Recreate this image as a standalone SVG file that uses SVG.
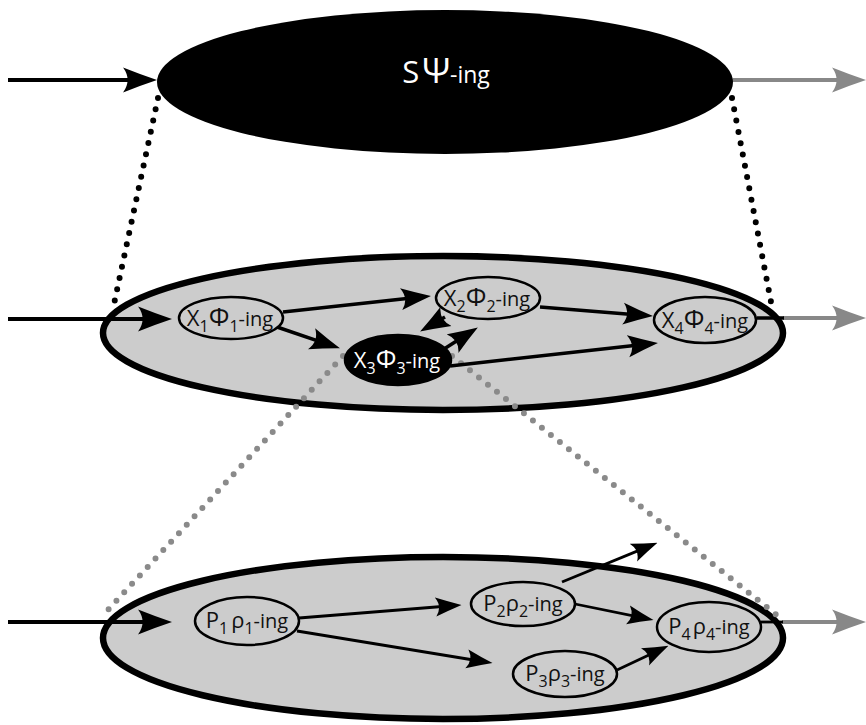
<svg xmlns="http://www.w3.org/2000/svg" width="866" height="725" viewBox="0 0 866 725">
<style>
.lbl{font-family:"Open Sans","Noto Sans",sans-serif;text-anchor:middle;fill:#111}
.w{fill:#fff}
.b{font-size:22px}
.s{font-size:16px}
.g{font-size:26px}
.i{font-size:20px}
.node{fill:#ccc;stroke:#000;stroke-width:2.5}
.dark{fill:#000;stroke:#000;stroke-width:2.5}
.big{fill:#ccc;stroke:#000;stroke-width:6.5}
.dotk{fill:none;stroke:#000;stroke-width:6;stroke-linecap:round;stroke-dasharray:0 11.5}
.dotg{fill:none;stroke:#8a8a8a;stroke-width:6;stroke-linecap:round;stroke-dasharray:0 11.5}
.ak{fill:none;stroke:#000;stroke-width:3.5}
.ab{fill:none;stroke:#000;stroke-width:2.8}
.ain{fill:none;stroke:#000;stroke-width:4;marker-end:url(#mL)}
.aout{fill:none;stroke:#888;stroke-width:4;marker-end:url(#mG)}
</style>
<defs>
<marker id="mL" markerUnits="userSpaceOnUse" viewBox="0 0 30 22" markerWidth="34" markerHeight="26" refX="22" refY="11" orient="auto"><path d="M30,11 Q15,6 0,0 Q8,11 0,22 Q15,16 30,11 Z" fill="#000"/></marker>
<marker id="mG" markerUnits="userSpaceOnUse" viewBox="0 0 30 22" markerWidth="34" markerHeight="26" refX="22" refY="11" orient="auto"><path d="M30,11 Q15,6 0,0 Q8,11 0,22 Q15,16 30,11 Z" fill="#888"/></marker>
<marker id="mM" markerUnits="userSpaceOnUse" viewBox="0 0 30 22" markerWidth="30" markerHeight="23" refX="22" refY="11" orient="auto"><path d="M30,11 Q15,6 0,0 Q8,11 0,22 Q15,16 30,11 Z" fill="#000"/></marker>
<marker id="mS" markerUnits="userSpaceOnUse" viewBox="0 0 30 22" markerWidth="26" markerHeight="20" refX="22" refY="11" orient="auto"><path d="M30,11 Q15,6 0,0 Q8,11 0,22 Q15,16 30,11 Z" fill="#000"/></marker>
</defs>

<g id="containers">
<ellipse id="top" cx="445" cy="82" rx="288" ry="72" fill="#000"/>
<ellipse id="middle" cx="443" cy="333" rx="340" ry="77" class="big"/>
<ellipse id="bottom" cx="443" cy="638" rx="340" ry="81" class="big"/>
</g>

<g id="connectors">
<line class="dotk" x1="158" y1="98" x2="114" y2="304"/>
<line class="dotk" x1="732" y1="98" x2="771" y2="302"/>
<line class="dotg" x1="343" y1="356" x2="106" y2="612"/>
<line class="dotg" x1="452" y1="356" x2="778" y2="616"/>

<line class="ain" x1="8" y1="80" x2="148" y2="80"/>
<line class="ain" x1="8" y1="319" x2="163" y2="319"/>
<line class="ain" x1="8" y1="622" x2="163" y2="622"/>
<line class="aout" x1="733" y1="80" x2="857" y2="80"/>
<line class="aout" x1="783" y1="318" x2="857" y2="318"/>
<line class="aout" x1="782" y1="622" x2="857" y2="622"/>
<line class="ak" x1="757" y1="318" x2="784" y2="318"/>
<line class="ab" x1="761" y1="622" x2="783" y2="622"/>

<line class="ak" marker-end="url(#mM)" x1="283" y1="312" x2="423" y2="296.8"/>
<line class="ak" marker-end="url(#mM)" x1="277" y1="327" x2="332.4" y2="345.8"/>
<line class="ak" marker-end="url(#mM)" x1="445" y1="317" x2="427" y2="327.5"/>
<line class="ak" marker-end="url(#mM)" x1="444" y1="349" x2="471.1" y2="331.8"/>
<line class="ak" marker-end="url(#mM)" x1="540" y1="307" x2="645" y2="315.4"/>
<line class="ak" marker-end="url(#mM)" x1="450" y1="366" x2="650" y2="343.8"/>

<line class="ab" marker-end="url(#mS)" x1="299" y1="618" x2="454.6" y2="605.5"/>
<line class="ab" marker-end="url(#mS)" x1="297" y1="631" x2="485.7" y2="662"/>
<line class="ab" marker-end="url(#mS)" x1="562" y1="582" x2="651.1" y2="545.4"/>
<line class="ab" marker-end="url(#mS)" x1="575" y1="604" x2="646.7" y2="618.7"/>
<line class="ab" marker-end="url(#mS)" x1="617" y1="670" x2="662.2" y2="648.7"/>
</g>

<g id="top-label">
<text class="lbl w" x="446" y="83"><tspan font-size="31px">S</tspan><tspan font-size="35px" dx="3">Ψ</tspan><tspan font-size="23px">-ing</tspan></text>
</g>

<g id="X1">
<ellipse class="node" cx="231" cy="318" rx="52" ry="21"/>
<text class="lbl" x="230" y="326"><tspan class="b">X</tspan><tspan class="s" dy="6">1</tspan><tspan class="g" dy="-6">Φ</tspan><tspan class="s" dy="6">1</tspan><tspan class="i" dy="-6">-ing</tspan></text>
</g>
<g id="X2">
<ellipse class="node" cx="488" cy="298" rx="52" ry="21"/>
<text class="lbl" x="487" y="306"><tspan class="b">X</tspan><tspan class="s" dy="6">2</tspan><tspan class="g" dy="-6">Φ</tspan><tspan class="s" dy="6">2</tspan><tspan class="i" dy="-6">-ing</tspan></text>
</g>
<g id="X3">
<ellipse class="dark" cx="398" cy="360" rx="53" ry="25"/>
<text class="lbl w" x="397" y="368"><tspan class="b">X</tspan><tspan class="s" dy="6">3</tspan><tspan class="g" dy="-6">Φ</tspan><tspan class="s" dy="6">3</tspan><tspan class="i" dy="-6">-ing</tspan></text>
</g>
<g id="X4">
<ellipse class="node" cx="705" cy="320" rx="51" ry="23"/>
<text class="lbl" x="705" y="328"><tspan class="b">X</tspan><tspan class="s" dy="6">4</tspan><tspan class="g" dy="-6">Φ</tspan><tspan class="s" dy="6">4</tspan><tspan class="i" dy="-6">-ing</tspan></text>
</g>

<g id="P1">
<ellipse class="node" cx="247" cy="621" rx="52" ry="24"/>
<text class="lbl" x="247" y="628"><tspan class="b">P</tspan><tspan class="s" dy="6">1</tspan><tspan class="b" dy="-6" dx="3">ρ</tspan><tspan class="s" dy="6">1</tspan><tspan class="i" dy="-6">-ing</tspan></text>
</g>
<g id="P2">
<ellipse class="node" cx="523" cy="604" rx="52" ry="22"/>
<text class="lbl" x="523" y="611"><tspan class="b">P</tspan><tspan class="s" dy="6">2</tspan><tspan class="b" dy="-6">ρ</tspan><tspan class="s" dy="6">2</tspan><tspan class="i" dy="-6">-ing</tspan></text>
</g>
<g id="P3">
<ellipse class="node" cx="565" cy="674" rx="52" ry="23"/>
<text class="lbl" x="565" y="681"><tspan class="b">P</tspan><tspan class="s" dy="6">3</tspan><tspan class="b" dy="-6">ρ</tspan><tspan class="s" dy="6">3</tspan><tspan class="i" dy="-6">-ing</tspan></text>
</g>
<g id="P4">
<ellipse class="node" cx="709" cy="627" rx="52" ry="25"/>
<text class="lbl" x="709" y="634"><tspan class="b">P</tspan><tspan class="s" dy="6">4</tspan><tspan class="b" dy="-6" dx="2">ρ</tspan><tspan class="s" dy="6">4</tspan><tspan class="i" dy="-6">-ing</tspan></text>
</g>
</svg>
